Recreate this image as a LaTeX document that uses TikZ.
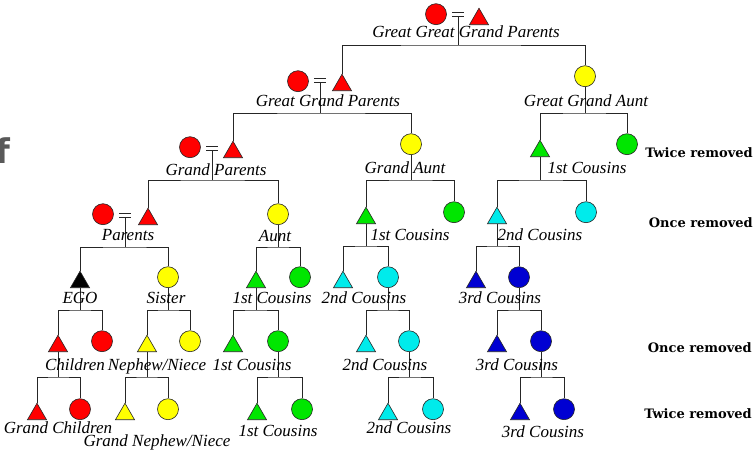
\documentclass[tikz,border=0pt]{standalone}
\usepackage{fontspec}
\usetikzlibrary{shapes.geometric}
\newfontfamily\lblfam{Liberation Serif}
\newfontfamily\sidefam{DejaVu Serif}
\newfontfamily\ffam{DejaVu Sans}
\definecolor{pred}{RGB}{255,0,0}
\definecolor{pyel}{RGB}{255,255,0}
\definecolor{pgrn}{RGB}{0,230,0}
\definecolor{pcyn}{RGB}{0,235,235}
\definecolor{pblu}{RGB}{0,0,210}
\begin{document}
\begin{tikzpicture}[x=1pt,y=-1pt,
  person/.style={draw=black!85, line width=0.6pt, inner sep=0pt, anchor=south},
  fem/.style={person, circle, minimum size=21pt},
  male/.style={person, regular polygon, regular polygon sides=3, minimum size=22pt},
  eqs/.style={inner sep=0pt, minimum width=11pt, minimum height=4pt},
  link/.style={line width=0.6pt, black!85},
  lbl/.style={font=\lblfam\itshape\fontsize{17}{17}\selectfont, inner sep=0pt, anchor=base},
  side/.style={font=\sidefam\bfseries\fontsize{13}{13}\selectfont, inner sep=0pt, anchor=base east},
]
\useasboundingbox (0,0) rectangle (754,450);
\node[font=\ffam\bfseries\fontsize{34}{34}\selectfont, text=black!65, inner sep=0pt, anchor=base west] (f) at (-5,163) {f};

% Generation 0
\node[fem, fill=pred] (c0) at (436,25) {};
\node[eqs] (e0) at (458,14) {};
\node[male, fill=pred] (t0) at (479,25) {};
\coordinate (j0) at (458,45);

% Generation 1
\node[fem, fill=pred] (c1) at (298,92) {};
\node[eqs] (e1) at (320,80) {};
\node[male, fill=pred] (t1) at (342,91) {};
\coordinate (j1) at (320,113);
\node[fem, fill=pyel] (gga) at (585,87) {};
\coordinate (j1b) at (585,113);

% Generation 2
\node[fem, fill=pred] (c2) at (190,158) {};
\node[eqs] (e2) at (212,148) {};
\node[male, fill=pred] (t2) at (233,158) {};
\coordinate (j2) at (212,180);
\node[fem, fill=pyel] (ga) at (411,155) {};
\coordinate (j2b) at (411,180);
\node[male, fill=pgrn] (gc1) at (540,157) {};
\node[fem, fill=pgrn] (gc1f) at (627,155) {};
\coordinate (j2c) at (540,180);

% Generation 3
\node[fem, fill=pred] (c3) at (103,225) {};
\node[eqs] (e3) at (125,215) {};
\node[male, fill=pred] (t3) at (148,225) {};
\coordinate (j3) at (125,247);
\node[fem, fill=pyel] (aunt) at (278,225) {};
\coordinate (j3b) at (278,247);
\node[male, fill=pgrn] (fc1) at (366,224) {};
\node[fem, fill=pgrn] (fc1f) at (454,223) {};
\coordinate (j3c) at (366,246);
\node[male, fill=pcyn] (sc1) at (497,224) {};
\node[fem, fill=pcyn] (sc1f) at (586,223) {};
\coordinate (j3d) at (497,246);

% Generation 4
\node[male, fill=black] (ego) at (80,288) {};
\coordinate (j4) at (80,310);
\node[fem, fill=pyel] (sis) at (168,288) {};
\coordinate (j4b) at (168,310);
\node[male, fill=pgrn] (ac) at (256,288) {};
\node[fem, fill=pgrn] (acf) at (300,288) {};
\coordinate (j4c) at (256,310);
\node[male, fill=pcyn] (gc2) at (343,288) {};
\node[fem, fill=pcyn] (gc2f) at (388,288) {};
\coordinate (j4d) at (388,310);
\node[male, fill=pblu] (tc) at (476,288) {};
\node[fem, fill=pblu] (tcf) at (519,288) {};
\coordinate (j4e) at (519,310);

% Generation 5
\node[male, fill=pred] (ch) at (58,352) {};
\node[fem, fill=pred] (chf) at (102,352) {};
\coordinate (j5) at (58,377);
\node[male, fill=pyel] (ne) at (147,352) {};
\node[fem, fill=pyel] (nef) at (190,352) {};
\coordinate (j5b) at (147,377);
\node[male, fill=pgrn] (a5) at (233,352) {};
\node[fem, fill=pgrn] (a5f) at (278,352) {};
\coordinate (j5c) at (278,377);
\node[male, fill=pcyn] (g5) at (366,352) {};
\node[fem, fill=pcyn] (g5f) at (409,352) {};
\coordinate (j5d) at (409,377);
\node[male, fill=pblu] (s5) at (497,352) {};
\node[fem, fill=pblu] (s5f) at (541,352) {};
\coordinate (j5e) at (541,377);

% Generation 6
\node[male, fill=pred] (gch) at (37,420) {};
\node[fem, fill=pred] (gchf) at (80,420) {};
\node[male, fill=pyel] (gne) at (125,420) {};
\node[fem, fill=pyel] (gnef) at (168,420) {};
\node[male, fill=pgrn] (a6) at (257,420) {};
\node[fem, fill=pgrn] (a6f) at (302,420) {};
\node[male, fill=pcyn] (g6) at (388,420) {};
\node[fem, fill=pcyn] (g6f) at (433,420) {};
\node[male, fill=pblu] (s6) at (520,420) {};
\node[fem, fill=pblu] (s6f) at (564,420) {};

% equals signs
\foreach \e in {e0,e1,e2,e3}
  \draw[link] (\e.north west) -- (\e.north east) (\e.south west) -- (\e.south east);

% connectors
\draw[link] (e0.south) -- (j0);
\draw[link] (t1.north) |- (j0) -| (gga.north);
\draw[link] (e1.south) -- (j1);
\draw[link] (t2.north) |- (j1) -| (ga.north);
\draw[link] (gga.south) -- (j1b);
\draw[link] (gc1.north) |- (j1b) -| (gc1f.north);
\draw[link] (e2.south) -- (j2);
\draw[link] (t3.north) |- (j2) -| (aunt.north);
\draw[link] (ga.south) -- (j2b);
\draw[link] (fc1.north) |- (j2b) -| (fc1f.north);
\draw[link] (gc1.south) -- (j2c);
\draw[link] (sc1.north) |- (j2c) -| (sc1f.north);
\draw[link] (e3.south) -- (j3);
\draw[link] (ego.north) |- (j3) -| (sis.north);
\draw[link] (aunt.south) -- (j3b);
\draw[link] (ac.north) |- (j3b) -| (acf.north);
\draw[link] (fc1.south) -- (j3c);
\draw[link] (gc2.north) |- (j3c) -| (gc2f.north);
\draw[link] (sc1.south) -- (j3d);
\draw[link] (tc.north) |- (j3d) -| (tcf.north);
\draw[link] (ego.south) -- (j4);
\draw[link] (ch.north) |- (j4) -| (chf.north);
\draw[link] (sis.south) -- (j4b);
\draw[link] (ne.north) |- (j4b) -| (nef.north);
\draw[link] (ac.south) -- (j4c);
\draw[link] (a5.north) |- (j4c) -| (a5f.north);
\draw[link] (gc2f.south) -- (j4d);
\draw[link] (g5.north) |- (j4d) -| (g5f.north);
\draw[link] (tcf.south) -- (j4e);
\draw[link] (s5.north) |- (j4e) -| (s5f.north);
\draw[link] (ch.south) -- (j5);
\draw[link] (gch.north) |- (j5) -| (gchf.north);
\draw[link] (ne.south) -- (j5b);
\draw[link] (gne.north) |- (j5b) -| (gnef.north);
\draw[link] (a5f.south) -- (j5c);
\draw[link] (a6.north) |- (j5c) -| (a6f.north);
\draw[link] (g5f.south) -- (j5d);
\draw[link] (g6.north) |- (j5d) -| (g6f.north);
\draw[link] (s5f.south) -- (j5e);
\draw[link] (s6.north) |- (j5e) -| (s6f.north);

% labels
\node[lbl] (l0) at (466,37) {Great Great Grand Parents};
\node[lbl] (l1) at (328,106) {Great Grand Parents};
\node[lbl] (l1b) at (586,106) {Great Grand Aunt};
\node[lbl] (l2) at (216,175) {Grand Parents};
\node[lbl] (l2b) at (405,173) {Grand Aunt};
\node[lbl] (l2c) at (587,173) {1st Cousins};
\node[lbl] (l3) at (128,240) {Parents};
\node[lbl] (l3b) at (275,241) {Aunt};
\node[lbl] (l3c) at (410,240) {1st Cousins};
\node[lbl] (l3d) at (540,240) {2nd Cousins};
\node[lbl] (l4) at (80,303) {EGO};
\node[lbl] (l4b) at (166,303) {Sister};
\node[lbl] (l4c) at (272,303) {1st Cousins};
\node[lbl] (l4d) at (364,303) {2nd Cousins};
\node[lbl] (l4e) at (500,303) {3rd Cousins};
\node[lbl] (l5) at (75,370) {Children};
\node[lbl] (l5b) at (157,370) {Nephew/Niece};
\node[lbl] (l5c) at (252,370) {1st Cousins};
\node[lbl] (l5d) at (385,370) {2nd Cousins};
\node[lbl] (l5e) at (517,370) {3rd Cousins};
\node[lbl] (l6) at (58,433) {Grand Children};
\node[lbl] (l6b) at (157,446) {Grand Nephew/Niece};
\node[lbl] (l6c) at (278,436) {1st Cousins};
\node[lbl] (l6d) at (409,433) {2nd Cousins};
\node[lbl] (l6e) at (543,437) {3rd Cousins};

\node[side] (r1) at (753,157) {Twice removed};
\node[side] (r2) at (753,227) {Once removed};
\node[side] (r3) at (752,352) {Once removed};
\node[side] (r4) at (752,418) {Twice removed};
\end{tikzpicture}
\end{document}
